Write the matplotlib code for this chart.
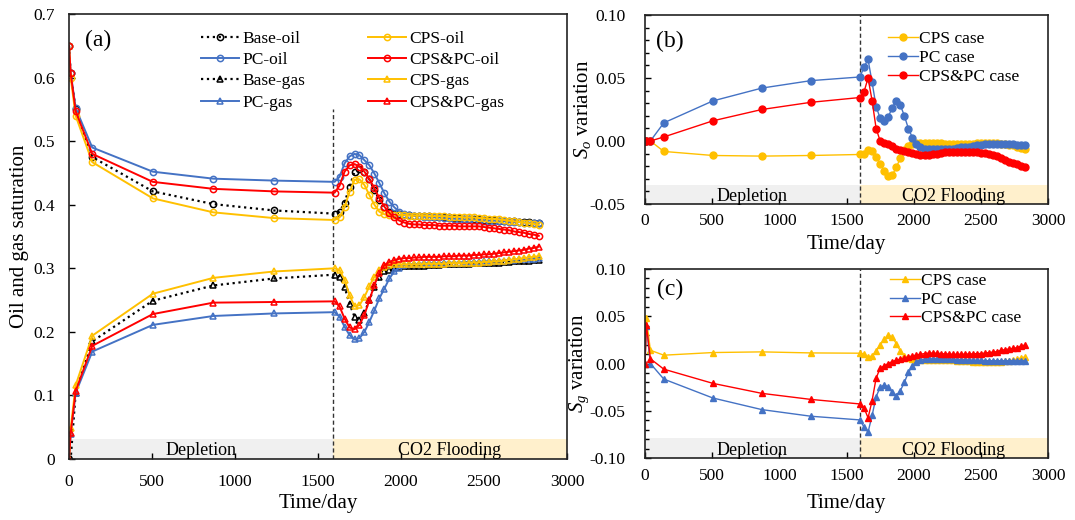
import numpy as np
import matplotlib
matplotlib.use('Agg')
import matplotlib.pyplot as plt
from matplotlib.ticker import MultipleLocator

plt.rcParams['font.family'] = ['Liberation Serif', 'DejaVu Serif']
plt.rcParams['mathtext.fontset'] = 'custom'
plt.rcParams['mathtext.rm'] = 'Liberation Serif'
plt.rcParams['mathtext.it'] = 'Liberation Serif:italic'
plt.rcParams['axes.unicode_minus'] = False

# time points: depletion stage (sparse) + CO2 flooding stage (every 30 days)
t_dep = [0, 10, 40, 140, 505, 870, 1235]
t_flood = [1600, 1630, 1660, 1690, 1720, 1750, 1780, 1810, 1840, 1870,
           1900, 1930, 1960, 1990, 2020, 2050, 2080, 2110, 2140, 2170,
           2200, 2230, 2260, 2290, 2320, 2350, 2380, 2410, 2440, 2470,
           2500, 2530, 2560, 2590, 2620, 2650, 2680, 2710, 2740, 2770,
           2800, 2830]
time = t_dep + t_flood

# (a) oil and gas saturation
base_oil = [0.650, 0.607, 0.550, 0.475, 0.421, 0.401, 0.391,
            0.386, 0.389, 0.403, 0.428, 0.452, 0.457, 0.452, 0.440, 0.423, 0.408,
            0.396, 0.389, 0.386, 0.385, 0.384, 0.384, 0.383, 0.383, 0.382, 0.382,
            0.381, 0.381, 0.380, 0.380, 0.379, 0.379, 0.378, 0.378, 0.377, 0.377,
            0.376, 0.376, 0.376, 0.375, 0.375, 0.374, 0.374, 0.373, 0.373, 0.373,
            0.372, 0.372]
pc_oil = [0.650, 0.607, 0.552, 0.490, 0.452, 0.441, 0.438,
          0.436, 0.444, 0.465, 0.476, 0.480, 0.478, 0.470, 0.462, 0.449, 0.434,
          0.418, 0.405, 0.396, 0.389, 0.385, 0.384, 0.383, 0.382, 0.381, 0.381,
          0.380, 0.380, 0.379, 0.379, 0.378, 0.378, 0.377, 0.377, 0.376, 0.376,
          0.375, 0.375, 0.375, 0.374, 0.374, 0.373, 0.373, 0.373, 0.372, 0.372,
          0.371, 0.371]
cps_oil = [0.650, 0.600, 0.540, 0.467, 0.410, 0.388, 0.379,
           0.376, 0.380, 0.396, 0.420, 0.439, 0.440, 0.431, 0.415, 0.400, 0.389,
           0.385, 0.384, 0.384, 0.384, 0.384, 0.383, 0.383, 0.383, 0.383, 0.382,
           0.382, 0.382, 0.382, 0.381, 0.381, 0.381, 0.380, 0.380, 0.380, 0.379,
           0.379, 0.378, 0.378, 0.377, 0.376, 0.375, 0.374, 0.373, 0.372, 0.371,
           0.370, 0.368]
cpspc_oil = [0.650, 0.607, 0.547, 0.480, 0.436, 0.425, 0.421,
             0.419, 0.430, 0.452, 0.462, 0.464, 0.460, 0.452, 0.440, 0.426, 0.410,
             0.397, 0.387, 0.380, 0.375, 0.372, 0.370, 0.369, 0.369, 0.368, 0.368,
             0.368, 0.367, 0.367, 0.367, 0.367, 0.366, 0.366, 0.366, 0.366, 0.366,
             0.365, 0.364, 0.363, 0.362, 0.361, 0.360, 0.358, 0.357, 0.356, 0.354,
             0.353, 0.351]
base_gas = [0.000, 0.000, 0.104, 0.185, 0.249, 0.273, 0.284,
            0.290, 0.287, 0.271, 0.244, 0.224, 0.219, 0.230, 0.250, 0.271, 0.287,
            0.295, 0.298, 0.301, 0.302, 0.303, 0.303, 0.304, 0.304, 0.304, 0.305,
            0.305, 0.305, 0.306, 0.306, 0.306, 0.307, 0.307, 0.307, 0.308, 0.308,
            0.308, 0.309, 0.309, 0.309, 0.310, 0.310, 0.311, 0.311, 0.312, 0.312,
            0.313, 0.313]
pc_gas = [0.000, 0.040, 0.104, 0.169, 0.211, 0.225, 0.229,
          0.231, 0.224, 0.208, 0.195, 0.188, 0.190, 0.200, 0.216, 0.234, 0.253,
          0.268, 0.284, 0.295, 0.301, 0.305, 0.306, 0.307, 0.307, 0.308, 0.308,
          0.308, 0.308, 0.309, 0.309, 0.309, 0.309, 0.310, 0.310, 0.310, 0.310,
          0.311, 0.311, 0.311, 0.312, 0.312, 0.313, 0.313, 0.314, 0.314, 0.315,
          0.315, 0.316]
cps_gas = [0.000, 0.048, 0.116, 0.194, 0.260, 0.285, 0.295,
           0.300, 0.297, 0.282, 0.258, 0.240, 0.242, 0.255, 0.272, 0.287, 0.297,
           0.302, 0.305, 0.306, 0.306, 0.306, 0.306, 0.306, 0.306, 0.307, 0.307,
           0.307, 0.307, 0.307, 0.308, 0.308, 0.308, 0.308, 0.309, 0.309, 0.309,
           0.310, 0.310, 0.311, 0.311, 0.312, 0.313, 0.314, 0.315, 0.316, 0.317,
           0.318, 0.319]
cpspc_gas = [0.000, 0.041, 0.107, 0.178, 0.228, 0.246, 0.247,
             0.248, 0.240, 0.221, 0.207, 0.204, 0.211, 0.227, 0.250, 0.274, 0.293,
             0.305, 0.310, 0.313, 0.315, 0.316, 0.316, 0.317, 0.317, 0.318, 0.318,
             0.318, 0.318, 0.319, 0.319, 0.319, 0.320, 0.320, 0.320, 0.321, 0.321,
             0.322, 0.322, 0.323, 0.324, 0.325, 0.326, 0.327, 0.328, 0.329, 0.331,
             0.332, 0.334]

# (b) So variation relative to base case
so_cps = [0, 0, 0, -0.0083, -0.0115, -0.0120, -0.0115,
          -0.0107, -0.0100, -0.0075, -0.0080, -0.0128, -0.0180, -0.0235, -0.0280, -0.0270, -0.0210,
          -0.0136, -0.0075, -0.0043, -0.0020, -0.0013, -0.0013, -0.0015, -0.0015, -0.0015, -0.0015,
          -0.0018, -0.0020, -0.0020, -0.0020, -0.0020, -0.0020, -0.0020, -0.0020, -0.0020, -0.0018,
          -0.0015, -0.0013, -0.0013, -0.0013, -0.0015, -0.0020, -0.0025, -0.0030, -0.0035, -0.0045,
          -0.0053, -0.0060]
so_pc = [0, 0, 0, 0.0144, 0.0318, 0.0420, 0.0479,
         0.0508, 0.0588, 0.0647, 0.0465, 0.0273, 0.0180, 0.0160, 0.0190, 0.0265, 0.0320,
         0.0286, 0.0200, 0.0099, 0.0027, -0.0020, -0.0050, -0.0060, -0.0065, -0.0065, -0.0065,
         -0.0065, -0.0060, -0.0060, -0.0060, -0.0055, -0.0050, -0.0050, -0.0045, -0.0040, -0.0035,
         -0.0030, -0.0025, -0.0022, -0.0020, -0.0020, -0.0020, -0.0020, -0.0022, -0.0025, -0.0030,
         -0.0033, -0.0035]
so_cpspc = [0, 0, 0, 0.0032, 0.0160, 0.0250, 0.0307,
            0.0345, 0.0390, 0.0500, 0.0320, 0.0099, 0.0000, -0.0016, -0.0020, -0.0040, -0.0060,
            -0.0075, -0.0080, -0.0088, -0.0096, -0.0100, -0.0110, -0.0110, -0.0110, -0.0107, -0.0100,
            -0.0096, -0.0090, -0.0088, -0.0088, -0.0088, -0.0088, -0.0088, -0.0088, -0.0088, -0.0090,
            -0.0092, -0.0096, -0.0100, -0.0110, -0.0120, -0.0136, -0.0150, -0.0163, -0.0174, -0.0180,
            -0.0195, -0.0203]

# (c) Sg variation relative to base case
sg_cps = [0, 0.048, 0.014, 0.0088, 0.0116, 0.0123, 0.0112,
          0.0109, 0.0098, 0.0070, 0.0080, 0.0133, 0.0196, 0.0256, 0.0300, 0.0280, 0.0210,
          0.0133, 0.0080, 0.0056, 0.0046, 0.0035, 0.0035, 0.0035, 0.0035, 0.0035, 0.0035,
          0.0035, 0.0035, 0.0035, 0.0035, 0.0030, 0.0030, 0.0025, 0.0025, 0.0020, 0.0020,
          0.0020, 0.0020, 0.0020, 0.0020, 0.0020, 0.0020, 0.0025, 0.0030, 0.0035, 0.0045,
          0.0060, 0.0070]
sg_pc = [0, 0.040, 0.000, -0.0165, -0.0365, -0.0488, -0.0558,
         -0.0597, -0.0674, -0.0726, -0.0550, -0.0350, -0.0253, -0.0228, -0.0246, -0.0305, -0.0340,
         -0.0288, -0.0200, -0.0095, -0.0025, 0.0020, 0.0039, 0.0046, 0.0050, 0.0050, 0.0050,
         0.0050, 0.0050, 0.0048, 0.0045, 0.0042, 0.0040, 0.0040, 0.0038, 0.0035, 0.0035,
         0.0032, 0.0030, 0.0030, 0.0030, 0.0030, 0.0030, 0.0030, 0.0030, 0.0030, 0.0030,
         0.0030, 0.0030]
sg_cpspc = [0, 0.041, 0.005, -0.0060, -0.0210, -0.0316, -0.0380,
            -0.0428, -0.0470, -0.0575, -0.0393, -0.0154, -0.0050, -0.0025, 0.0000, 0.0020, 0.0035,
            0.0046, 0.0056, 0.0070, 0.0080, 0.0090, 0.0098, 0.0105, 0.0110, 0.0110, 0.0108,
            0.0105, 0.0102, 0.0100, 0.0098, 0.0098, 0.0098, 0.0100, 0.0100, 0.0102, 0.0105,
            0.0105, 0.0110, 0.0116, 0.0120, 0.0126, 0.0140, 0.0147, 0.0154, 0.0160, 0.0168,
            0.0186, 0.0196]

BLUE = '#4472C4'
GOLD = '#FFC000'
RED = '#FF0000'
GREY_BAND = '#F0F0F0'
GOLD_BAND = '#FFF0CC'
switch_day = 1600


def add_stages(ax, ymin, band_top, line_top, switch, text_y):
    ax.fill_between([0, switch], ymin, band_top, color=GREY_BAND, lw=0, zorder=0)
    ax.fill_between([switch, 3000], ymin, band_top, color=GOLD_BAND, lw=0, zorder=0)
    ax.plot([switch, switch], [ymin, line_top], ls=(0, (3, 2)), color='#333333', lw=1.0, zorder=1)
    tr = ax.get_xaxis_transform()
    ax.text(switch / 2, text_y, 'Depletion', transform=tr, ha='center', va='baseline', fontsize=13)
    ax.text((switch + 3000) / 2, text_y, 'CO2 Flooding', transform=tr, ha='center', va='baseline', fontsize=13)


def style_axis(ax, xpad, ypad):
    ax.tick_params(direction='in', which='both', labelsize=12.5, length=4, width=1)
    ax.tick_params(which='minor', length=3)
    ax.tick_params(axis='x', pad=xpad)
    ax.tick_params(axis='y', pad=ypad)
    for s in ax.spines.values():
        s.set_linewidth(1.2)
        s.set_color('#222222')


fig = plt.figure(figsize=(10.75, 5.2), dpi=100)
ax_a = fig.add_axes([0.0642, 0.1173, 0.4632, 0.8557])
ax_b = fig.add_axes([0.600, 0.6077, 0.375, 0.3635])
ax_c = fig.add_axes([0.600, 0.1192, 0.375, 0.3635])

# ---- (a)
ms = 4.5
mew = 1.1
ax_a.plot(time, base_oil, ls=':', color='black', lw=1.6, marker='o', ms=ms, mfc='none', mew=mew, label='Base-oil')
ax_a.plot(time, pc_oil, ls='-', color=BLUE, lw=1.4, marker='o', ms=ms, mfc='none', mew=mew, label='PC-oil')
ax_a.plot(time, base_gas, ls=':', color='black', lw=1.6, marker='^', ms=ms, mfc='none', mew=mew, label='Base-gas')
ax_a.plot(time, pc_gas, ls='-', color=BLUE, lw=1.4, marker='^', ms=ms, mfc='none', mew=mew, label='PC-gas')
ax_a.plot(time, cps_oil, ls='-', color=GOLD, lw=1.4, marker='o', ms=ms, mfc='none', mew=mew, label='CPS-oil')
ax_a.plot(time, cpspc_oil, ls='-', color=RED, lw=1.4, marker='o', ms=ms, mfc='none', mew=mew, label='CPS&PC-oil')
ax_a.plot(time, cps_gas, ls='-', color=GOLD, lw=1.4, marker='^', ms=ms, mfc='none', mew=mew, label='CPS-gas')
ax_a.plot(time, cpspc_gas, ls='-', color=RED, lw=1.4, marker='^', ms=ms, mfc='none', mew=mew, label='CPS&PC-gas')
ax_a.set_xlim(0, 3000)
ax_a.set_ylim(0, 0.7)
add_stages(ax_a, 0, 0.031, 0.55, 1590, 0.009)
ax_a.set_yticks(np.arange(0, 0.71, 0.1))
ax_a.set_yticklabels(['0', '0.1', '0.2', '0.3', '0.4', '0.5', '0.6', '0.7'])
ax_a.set_xticks(np.arange(0, 3001, 500))
ax_a.set_xlabel('Time/day', fontsize=15, labelpad=3)
ax_a.set_ylabel('Oil and gas saturation', fontsize=15)
ax_a.yaxis.set_label_coords(-0.080, 0.5)
style_axis(ax_a, 11, 10)
ax_a.text(0.032, 0.94, '(a)', transform=ax_a.transAxes, fontsize=17, va='center', ha='left')
ax_a.legend(ncol=2, loc='upper left', bbox_to_anchor=(0.265, 0.963), frameon=False,
            fontsize=12.5, handlelength=2.2, handletextpad=0.2, labelspacing=0.3,
            columnspacing=3.6, borderpad=0, borderaxespad=0)

# ---- (b)
ms2 = 5
ax_b.plot(time, so_cps, color=GOLD, lw=1.0, marker='o', ms=ms2, label='CPS case')
ax_b.plot(time, so_pc, color=BLUE, lw=1.0, marker='o', ms=ms2, label='PC case')
ax_b.plot(time, so_cpspc, color=RED, lw=1.0, marker='o', ms=ms2, label='CPS&PC case')
ax_b.set_xlim(0, 3000)
ax_b.set_ylim(-0.05, 0.10)
add_stages(ax_b, -0.05, -0.035, 0.10, switch_day, 0.016)
ax_b.set_yticks([-0.05, 0.0, 0.05, 0.10])
ax_b.set_yticklabels(['-0.05', '0.00', '0.05', '0.10'])
ax_b.yaxis.set_minor_locator(MultipleLocator(0.01))
ax_b.set_xticks(np.arange(0, 3001, 500))
ax_b.set_xlabel('Time/day', fontsize=15, labelpad=4)
ax_b.set_ylabel('$S_o$ variation', fontsize=15)
ax_b.yaxis.set_label_coords(-0.129, 0.5)
style_axis(ax_b, 6.7, 14)
ax_b.text(0.027, 0.86, '(b)', transform=ax_b.transAxes, fontsize=17, va='center', ha='left')
ax_b.legend(loc='upper left', bbox_to_anchor=(0.603, 0.915), frameon=False, fontsize=12.5,
            handlelength=1.7, handletextpad=0.1, labelspacing=0.15, borderpad=0, borderaxespad=0)

# ---- (c)
ax_c.plot(time, sg_cps, color=GOLD, lw=1.0, marker='^', ms=ms2, label='CPS case')
ax_c.plot(time, sg_pc, color=BLUE, lw=1.0, marker='^', ms=ms2, label='PC case')
ax_c.plot(time, sg_cpspc, color=RED, lw=1.0, marker='^', ms=ms2, label='CPS&PC case')
ax_c.set_xlim(0, 3000)
ax_c.set_ylim(-0.10, 0.10)
add_stages(ax_c, -0.10, -0.079, 0.10, switch_day, 0.016)
ax_c.set_yticks([-0.10, -0.05, 0.0, 0.05, 0.10])
ax_c.set_yticklabels(['-0.10', '-0.05', '0.00', '0.05', '0.10'])
ax_c.yaxis.set_minor_locator(MultipleLocator(0.01))
ax_c.set_xticks(np.arange(0, 3001, 500))
ax_c.set_xlabel('Time/day', fontsize=15, labelpad=7)
ax_c.set_ylabel('$S_g$ variation', fontsize=15)
ax_c.yaxis.set_label_coords(-0.134, 0.5)
style_axis(ax_c, 7.2, 14)
ax_c.text(0.03, 0.89, '(c)', transform=ax_c.transAxes, fontsize=17, va='center', ha='left')
ax_c.legend(loc='upper left', bbox_to_anchor=(0.608, 0.98), frameon=False, fontsize=12.5,
            handlelength=1.7, handletextpad=0.1, labelspacing=0.15, borderpad=0, borderaxespad=0)

fig.savefig('out.png', dpi=100)
